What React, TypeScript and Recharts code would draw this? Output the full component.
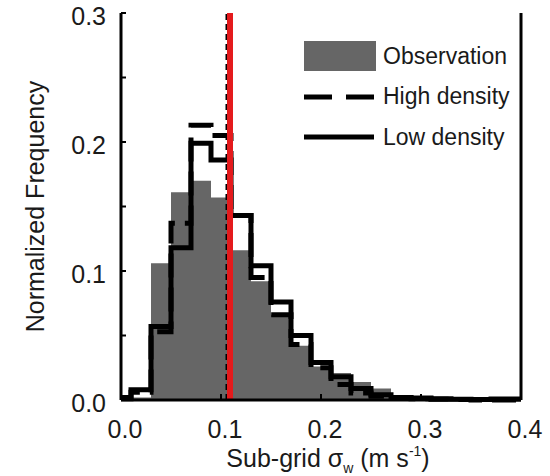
import { Area, ComposedChart, Legend, Line, ReferenceLine, XAxis, YAxis } from 'recharts';

// histogram bins, width 0.02, centred on these values
const binCenters = [0, 0.02, 0.04, 0.06, 0.08, 0.1, 0.12, 0.14, 0.16, 0.18, 0.2, 0.22, 0.24, 0.26, 0.28, 0.3, 0.32, 0.34, 0.36, 0.38, 0.4];
const observation = [0, 0.002, 0.106, 0.161, 0.17, 0.157, 0.116, 0.092, 0.066, 0.042, 0.026, 0.021, 0.014, 0.009, 0.003, 0.001, 0, 0, 0, 0, 0];
const highDensity = [0.002, 0.006, 0.053, 0.137, 0.213, 0.205, 0.143, 0.095, 0.066, 0.043, 0.025, 0.012, 0.0055, 0.003, 0.0015, 0.001, 0.0005, 0.0003, 0, 0, 0];
const lowDensity = [0.001, 0.008, 0.057, 0.118, 0.199, 0.186, 0.143, 0.104, 0.076, 0.05, 0.029, 0.018, 0.009, 0.004, 0.002, 0.0015, 0.001, 0.0005, 0.0003, 0.0008, 0.0008];

const xTicks = [0, 0.1, 0.2, 0.3, 0.4];
const yTicks = [0, 0.05, 0.1, 0.15, 0.2, 0.25, 0.3];
const yLabelTicks = [0, 0.1, 0.2, 0.3];

const highDensityMean = 0.1055;
const observationMean = 0.109;

const legendItems = [
    { key: 'obs', label: 'Observation' },
    { key: 'high', label: 'High density' },
    { key: 'low', label: 'Low density' },
];

const font = '"Liberation Sans", Arial, Helvetica, sans-serif';
const textColor = '#1a1a1a';
const grey = '#666666';
const red = '#e41a1c';

const data = binCenters.map((x, i) => ({ x, obs: observation[i], high: highDensity[i], low: lowDensity[i] }));

function BottomTick({ x, y, payload }: any) {
    return (
        <g>
            <line x1={x} x2={x} y1={y} y2={y - 6} stroke="#000" strokeWidth={2} />
            <text x={x + 4} y={y + 38} textAnchor="middle" fontSize={25} fontFamily={font} fill={textColor}>
                {Number(payload.value).toFixed(1)}
            </text>
        </g>
    );
}

function TopTick({ x, y }: any) {
    return <line x1={x} x2={x} y1={y} y2={y + 6} stroke="#000" strokeWidth={2} />;
}

function LeftTick({ x, y, payload }: any) {
    const showLabel = yLabelTicks.some((v) => Math.abs(v - payload.value) < 1e-6);
    return (
        <g>
            <line x1={x} x2={x + 5} y1={y} y2={y} stroke="#000" strokeWidth={2} />
            {showLabel && (
                <text x={x - 15} y={y + 3} dy="0.35em" textAnchor="end" fontSize={25} fontFamily={font} fill={textColor}>
                    {Number(payload.value).toFixed(1)}
                </text>
            )}
        </g>
    );
}

function RightTick({ x, y }: any) {
    return <line x1={x} x2={x - 5} y1={y} y2={y} stroke="#000" strokeWidth={2} />;
}

function XTitle({ viewBox }: any) {
    const cx = viewBox.x + viewBox.width / 2 + 7;
    return (
        <text x={cx} y={viewBox.y + 67} textAnchor="middle" fontSize={25} fontFamily={font} fill={textColor}>
            Sub-grid σ
            <tspan fontSize={14} dy={6}>w</tspan>
            <tspan dy={-6}> (m s</tspan>
            <tspan fontSize={14} dy={-11}>-1</tspan>
            <tspan dy={11}>)</tspan>
        </text>
    );
}

function YTitle({ viewBox }: any) {
    const cy = viewBox.y + viewBox.height / 2;
    const cx = 35;
    return (
        <text x={cx} y={cy} dy="0.35em" transform={`rotate(-90, ${cx}, ${cy})`} textAnchor="middle" fontSize={25} fontFamily={font} fill={textColor}>
            Normalized Frequency
        </text>
    );
}

function LegendBox() {
    return (
        <div style={{ fontFamily: font, fontSize: 23, color: textColor }}>
            {legendItems.map((item) => (
                <div key={item.key} style={{ display: 'flex', alignItems: 'center', height: 40.5 }}>
                    <svg width={79} height={32}>
                        {item.key === 'obs' && <rect x={0} y={1} width={72} height={30} fill={grey} />}
                        {item.key === 'high' && <line x1={0} x2={72} y1={16} y2={16} stroke="#000" strokeWidth={5} strokeDasharray="28 14" />}
                        {item.key === 'low' && <line x1={0} x2={70} y1={16} y2={16} stroke="#000" strokeWidth={5} />}
                    </svg>
                    <span>{item.label}</span>
                </div>
            ))}
        </div>
    );
}

export default function App() {
    return (
        <div style={{ position: 'absolute', left: 0, top: 0, width: 550, height: 476, background: '#fff' }}>
            <ComposedChart width={550} height={476} data={data} margin={{ top: 13, right: 28, bottom: 0, left: 0 }}>
                <XAxis
                    dataKey="x"
                    type="number"
                    domain={[0, 0.4]}
                    ticks={xTicks}
                    height={76}
                    tickSize={0}
                    tickMargin={0}
                    tickLine={false}
                    tick={<BottomTick />}
                    axisLine={{ stroke: '#000', strokeWidth: 3 }}
                    label={<XTitle />}
                    interval={0}
                />
                <XAxis
                    xAxisId="top"
                    orientation="top"
                    dataKey="x"
                    type="number"
                    domain={[0, 0.4]}
                    ticks={xTicks}
                    height={0}
                    tickSize={0}
                    tickMargin={0}
                    tickLine={false}
                    tick={<TopTick />}
                    axisLine={{ stroke: '#000', strokeWidth: 3 }}
                    interval={0}
                />
                <YAxis
                    type="number"
                    domain={[0, 0.3]}
                    ticks={yTicks}
                    width={121}
                    tickSize={0}
                    tickMargin={0}
                    tickLine={false}
                    tick={<LeftTick />}
                    axisLine={{ stroke: '#000', strokeWidth: 3 }}
                    label={<YTitle />}
                    interval={0}
                />
                <YAxis
                    yAxisId="right"
                    orientation="right"
                    type="number"
                    domain={[0, 0.3]}
                    ticks={yTicks}
                    width={1}
                    tickSize={0}
                    tickMargin={0}
                    tickLine={false}
                    tick={<RightTick />}
                    axisLine={{ stroke: '#000', strokeWidth: 3 }}
                    interval={0}
                />
                <Legend
                    layout="vertical"
                    align="center"
                    verticalAlign="middle"
                    wrapperStyle={{ top: 36, left: 304, width: 240 }}
                    content={<LegendBox />}
                />
                <Area type="step" dataKey="obs" fill={grey} fillOpacity={1} stroke="none" isAnimationActive={false} />
                <Line type="step" dataKey="high" stroke="#000" strokeWidth={5} strokeDasharray="24 10" dot={false} isAnimationActive={false} />
                <Line type="step" dataKey="low" stroke="#000" strokeWidth={5} dot={false} isAnimationActive={false} />
                <ReferenceLine x={highDensityMean} stroke="#000" strokeWidth={2} strokeDasharray="6 4" />
                <ReferenceLine x={observationMean} stroke={red} strokeWidth={6} />
            </ComposedChart>
        </div>
    );
}
